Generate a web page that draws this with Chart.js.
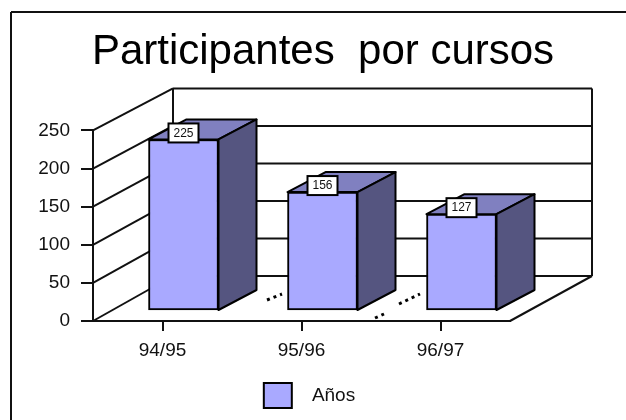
<!DOCTYPE html>
<html>
<head>
<meta charset="utf-8">
<title>Participantes por cursos</title>
<script src="https://cdn.jsdelivr.net/npm/chart.js@4"></script>
<style>
  html, body { margin: 0; padding: 0; background: #fff; overflow: hidden; }
  canvas { display: block; }
</style>
</head>
<body>
<canvas id="chart" width="626" height="420"></canvas>
<script>
const titleText = "Participantes  por cursos";
const seriesName = "Años";
const categories = ["94/95", "95/96", "96/97"];
const participantes = [225, 156, 127];
const axisMax = 250;
const axisStep = 50;

const fontName = "'Liberation Sans', Arial, sans-serif";
const lineColor = "#111";

// depth of the fake 3D box
const wallDx = 80;
const wallDy = -45;
const wallShrink = 187 / 190;
const barShiftX = 21;
const barShiftY = -10;
const barDepthX = 38;
const barDepthY = -20;

function line(ctx, x1, y1, x2, y2) {
  ctx.beginPath();
  ctx.moveTo(x1, y1);
  ctx.lineTo(x2, y2);
  ctx.stroke();
}

function face(ctx, pts, fill) {
  ctx.beginPath();
  pts.forEach((p, i) => (i ? ctx.lineTo(p[0], p[1]) : ctx.moveTo(p[0], p[1])));
  ctx.closePath();
  ctx.fillStyle = fill;
  ctx.fill();
  ctx.stroke();
}

const boxPlugin = {
  id: "box3d",
  // title and legend are centred on the whole picture, not the plot
  afterLayout(chart) {
    chart.titleBlock.left = 0;
    chart.titleBlock.right = 646;
    chart.legend.left = 0;
    chart.legend.right = 619;
    chart.legend.top += 8;
    chart.legend.bottom += 8;
  },
  // Frame, walls and floor behind the bars
  beforeDatasetsDraw(chart) {
    const { ctx, chartArea: a, scales } = chart;
    const y = scales.y;
    const bottom = y.getPixelForValue(0);
    const backY = (v) => bottom + wallDy + (y.getPixelForValue(v) - bottom) * wallShrink;
    const backLeft = a.left + wallDx;
    const backRight = a.right + wallDx + 2;

    ctx.save();
    ctx.strokeStyle = lineColor;
    ctx.lineWidth = 2;
    line(ctx, 11, 420, 11, 12);
    line(ctx, 11, 12, 626, 12);

    for (let v = 0; v <= axisMax; v += axisStep) {
      line(ctx, a.left, y.getPixelForValue(v), backLeft, backY(v));
      line(ctx, backLeft, backY(v), backRight, backY(v));
    }
    line(ctx, backLeft, backY(0), backLeft, backY(axisMax));
    line(ctx, backRight, backY(0), backRight, backY(axisMax));
    line(ctx, a.right, bottom, backRight, backY(0));
    ctx.restore();
  },
  beforeDatasetDraw(chart) {
    const { ctx } = chart;
    ctx.save();
    ctx.translate(barShiftX, barShiftY);
    ctx.strokeStyle = "#000";
    ctx.lineWidth = 2;
    ctx.lineJoin = "round";
    chart.getDatasetMeta(0).data.forEach((bar) => {
      const l = bar.x - bar.width / 2;
      const r = bar.x + bar.width / 2;
      face(ctx, [[l, bar.y], [l + barDepthX, bar.y + barDepthY], [r + barDepthX, bar.y + barDepthY], [r, bar.y]], "#8080c0");
      face(ctx, [[r, bar.y], [r + barDepthX, bar.y + barDepthY], [r + barDepthX, bar.base + barDepthY], [r, bar.base]], "#555580");
    });
  },
  afterDatasetDraw(chart) {
    chart.ctx.restore();
  },
  afterDatasetsDraw(chart) {
    const { ctx, chartArea: a } = chart;
    ctx.save();

    // value labels
    ctx.font = "12px " + fontName;
    ctx.textAlign = "center";
    ctx.textBaseline = "middle";
    chart.getDatasetMeta(0).data.forEach((bar, i) => {
      const cx = bar.x + barShiftX;
      const top = bar.y + barShiftY;
      ctx.fillStyle = "#fff";
      ctx.strokeStyle = "#000";
      ctx.lineWidth = 2;
      ctx.fillRect(cx - 15, top - 16, 30, 19);
      ctx.strokeRect(cx - 15, top - 16, 30, 19);
      ctx.fillStyle = "#111";
      ctx.fillText(String(participantes[i]), cx, top - 6);
    });

    // leftover dotted bits on the floor
    ctx.strokeStyle = "#000";
    ctx.lineWidth = 3;
    ctx.setLineDash([3, 4]);
    line(ctx, a.left + 174, a.bottom - 21, a.left + 189, a.bottom - 27);
    line(ctx, a.left + 282, a.bottom - 3, a.left + 291, a.bottom - 7);
    line(ctx, a.left + 306, a.bottom - 17, a.left + 327, a.bottom - 27);
    ctx.restore();
  },
};

new Chart(document.getElementById("chart"), {
  type: "bar",
  data: {
    labels: categories,
    datasets: [
      {
        label: seriesName,
        data: participantes,
        backgroundColor: "#a9a9ff",
        borderColor: "#000",
        borderWidth: 2,
        borderSkipped: false,
        barThickness: 70,
        clip: false,
      },
    ],
  },
  options: {
    responsive: false,
    animation: false,
    events: [],
    layout: { padding: { left: 24, right: 116, top: 19, bottom: 10 } },
    scales: {
      x: {
        offset: true,
        afterFit: (scale) => { scale.height = 46; },
        border: { color: lineColor, width: 2 },
        grid: { offset: false, drawOnChartArea: false, color: lineColor, lineWidth: 2, tickLength: 10 },
        ticks: { color: "#111", font: { family: fontName, size: 19 }, padding: 8, maxRotation: 0 },
      },
      y: {
        min: 0,
        max: axisMax,
        afterFit: (scale) => { scale.width = 69; },
        border: { color: lineColor, width: 2 },
        grid: { drawOnChartArea: false, color: lineColor, lineWidth: 2, tickLength: 12 },
        ticks: { stepSize: axisStep, color: "#111", font: { family: fontName, size: 19 }, padding: 11 },
      },
    },
    plugins: {
      title: {
        display: true,
        text: titleText,
        color: "#000",
        font: { family: fontName, size: 42, weight: "normal" },
        padding: { top: 8, bottom: 53 },
      },
      legend: {
        position: "bottom",
        labels: {
          boxWidth: 28,
          boxHeight: 25,
          color: "#111",
          font: { family: fontName, size: 19 },
          padding: 8,
          // wider gap between swatch and text than the default
          generateLabels: (chart) =>
            Chart.defaults.plugins.legend.labels.generateLabels(chart).map((item) => ({
              ...item,
              text: "  " + item.text,
            })),
        },
      },
      tooltip: { enabled: false },
    },
  },
  plugins: [boxPlugin],
});
</script>
</body>
</html>
